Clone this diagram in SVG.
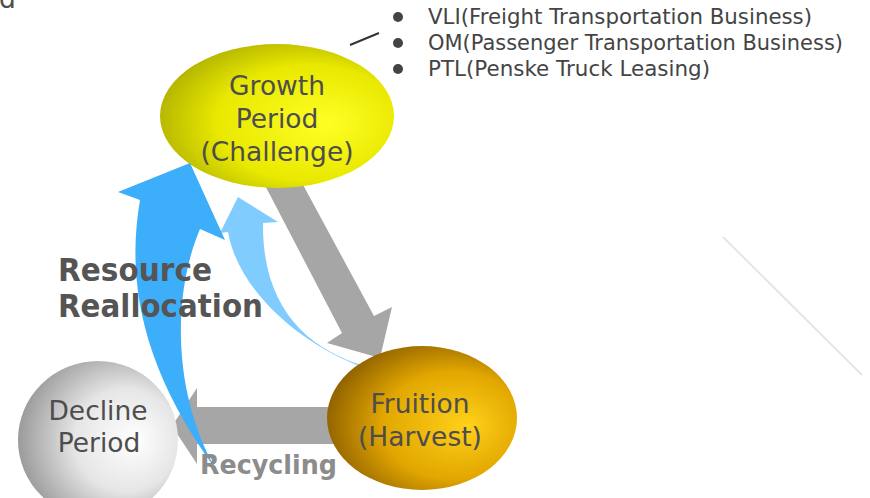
<svg xmlns="http://www.w3.org/2000/svg" width="870" height="498" viewBox="0 0 870 498">
<defs>
<style>
.node{font-family:"DejaVu Sans","Liberation Sans",sans-serif;font-size:26.5px;fill:#4d4d4d;text-anchor:middle}
.bul{font-family:"DejaVu Sans","Liberation Sans",sans-serif;font-size:21px;fill:#444}
.big{font-family:"DejaVu Sans","Liberation Sans",sans-serif;font-weight:bold;font-size:32px;fill:#555}
.rec{font-family:"DejaVu Sans","Liberation Sans",sans-serif;font-weight:bold;font-size:26px;fill:#8c8c8c}
.gray{fill:#a6a6a6}
</style>
<radialGradient id="gY" cx="0.6" cy="0.55" r="0.62" fx="0.72" fy="0.55">
<stop offset="0" stop-color="#ffff26"/>
<stop offset="0.65" stop-color="#e8e800"/>
<stop offset="1" stop-color="#b4b400"/>
</radialGradient>
<radialGradient id="gO" cx="0.62" cy="0.55" r="0.62" fx="0.74" fy="0.55">
<stop offset="0" stop-color="#ffd11a"/>
<stop offset="0.6" stop-color="#e2a700"/>
<stop offset="1" stop-color="#946500"/>
</radialGradient>
<radialGradient id="gW" cx="0.62" cy="0.5" r="0.65" fx="0.74" fy="0.5">
<stop offset="0" stop-color="#ffffff"/>
<stop offset="0.5" stop-color="#e6e6e6"/>
<stop offset="1" stop-color="#949494"/>
</radialGradient>
</defs>
<rect width="870" height="498" fill="#ffffff"/>
<text class="node" x="-1" y="8" style="text-anchor:start">d</text>
<line x1="723" y1="237" x2="862" y2="375" stroke="#e6e6e6" stroke-width="2"/>

<g id="connectors">
<polygon id="arrow-growth-fruition" class="gray" points="257,170 295,170 374,316 392,307 380,358 327,343 342,333"/>
<polygon id="arrow-fruition-decline" class="gray" points="335,407 197,407 197,388 172,426 197,464 197,444 335,444"/>
<path id="arrow-fruition-growth" fill="#80ccff" d="M365,368 C300,345 238,290 228,232 L220,233 L238,197 L278,222 L263,223 C262,310 310,350 365,366 Z"/>
</g>

<g id="node-growth">
<ellipse cx="277" cy="116" rx="117" ry="72" fill="url(#gY)"/>
<text class="node" x="277" y="95">Growth</text>
<text class="node" x="277" y="128">Period</text>
<text class="node" x="277" y="161">(Challenge)</text>
</g>

<g id="node-fruition">
<ellipse cx="422" cy="418" rx="95" ry="72" fill="url(#gO)"/>
<text class="node" x="420" y="413">Fruition</text>
<text class="node" x="420" y="446">(Harvest)</text>
</g>

<g id="node-decline">
<ellipse cx="98" cy="440" rx="80" ry="79" fill="url(#gW)"/>
<text class="node" x="98" y="420">Decline</text>
<text class="node" x="99" y="452">Period</text>
</g>

<g id="resource-arrow">
<path fill="#3daefa" d="M217,471 C135,360 128,270 140,200 L118,192 L190,163 L225,240 L200,229 C170,300 175,400 217,471 Z"/>
</g>

<g id="labels">
<text class="big" x="58" y="281" textLength="154" lengthAdjust="spacingAndGlyphs">Resource</text>
<text class="big" x="58" y="317" textLength="205" lengthAdjust="spacingAndGlyphs">Reallocation</text>
<text class="rec" x="200" y="474" textLength="137" lengthAdjust="spacingAndGlyphs">Recycling</text>
</g>

<g id="bullets">
<line x1="350" y1="45" x2="379" y2="33" stroke="#333" stroke-width="2"/>
<circle cx="398" cy="17" r="5" fill="#444"/>
<circle cx="398" cy="43" r="5" fill="#444"/>
<circle cx="398" cy="69" r="5" fill="#444"/>
<text class="bul" x="428" y="24" textLength="384" lengthAdjust="spacingAndGlyphs">VLI(Freight Transportation Business)</text>
<text class="bul" x="428" y="50" textLength="415" lengthAdjust="spacingAndGlyphs">OM(Passenger Transportation Business)</text>
<text class="bul" x="428" y="76" textLength="282" lengthAdjust="spacingAndGlyphs">PTL(Penske Truck Leasing)</text>
</g>
</svg>
